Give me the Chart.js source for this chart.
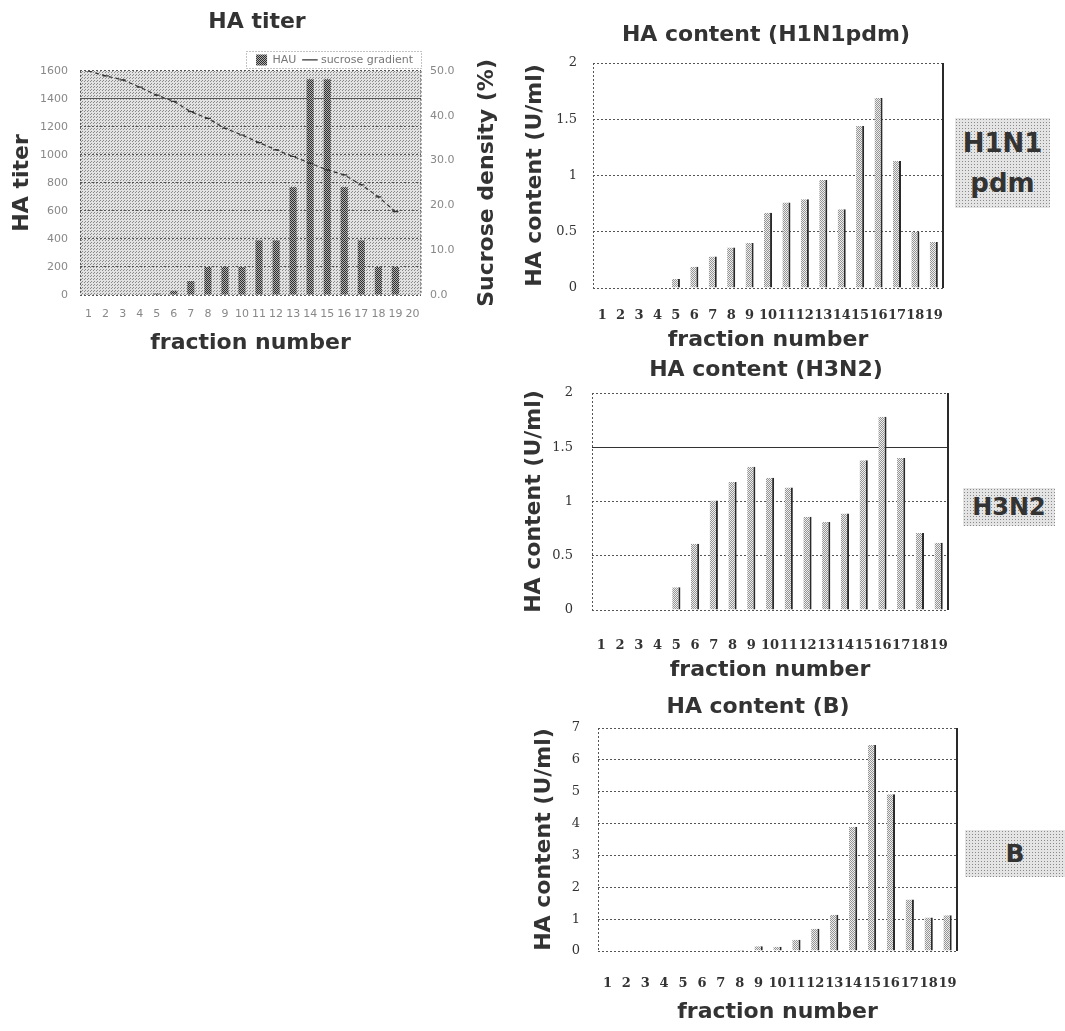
<!DOCTYPE html>
<html>
<head>
<meta charset="utf-8">
<script src="https://cdn.jsdelivr.net/npm/chart.js@4.4.1/dist/chart.umd.min.js"></script>
<style>
  body { margin: 0; background: #fff; width: 1065px; height: 1031px; position: relative; overflow: hidden; }
  canvas { position: absolute; }
  .tag {
    position: absolute; color: #333; font-family: "DejaVu Sans", sans-serif; font-weight: bold; text-align: center;
    background-color: #e4e4e4;
    background-image: radial-gradient(#8a8a8a 35%, transparent 45%);
    background-size: 3px 3px;
  }
</style>
</head>
<body>
<canvas id="titer" width="514" height="360" style="left:0;top:0"></canvas>
<canvas id="h1n1" width="552" height="355" style="left:490px;top:0"></canvas>
<canvas id="h3n2" width="552" height="340" style="left:490px;top:345px"></canvas>
<canvas id="fluB" width="536" height="351" style="left:490px;top:680px"></canvas>

<div class="tag" style="left:955px;top:118px;width:95px;height:85px;padding-top:5px;font-size:26px;line-height:40px">H1N1<br>pdm</div>
<div class="tag" style="left:963px;top:488px;width:92px;height:38px;font-size:24px;line-height:38px">H3N2</div>
<div class="tag" style="left:965px;top:830px;width:100px;height:47px;font-size:25px;line-height:47px">B</div>

<script>
const SANS = '"DejaVu Sans", sans-serif';
const SERIF = '"DejaVu Serif", serif';

// fractions of the sucrose gradient
const fractions20 = ["1","2","3","4","5","6","7","8","9","10","11","12","13","14","15","16","17","18","19","20"];
const fractions19 = ["1","2","3","4","5","6","7","8","9","10","11","12","13","14","15","16","17","18","19"];

// HA titer (HAU) and sucrose density (%)
const hau     = [3, 3, 3, 3, 10, 30, 100, 200, 200, 200, 390, 390, 770, 1540, 1540, 770, 390, 200, 200, null];
const sucrose = [50.0, 48.9, 48.0, 46.4, 44.6, 43.2, 40.9, 39.4, 37.2, 35.7, 34.0, 32.4, 30.9, 29.4, 27.9, 26.8, 24.6, 21.9, 18.6, null];

// HA content (U/ml)
const h1n1pdm = [0, 0, 0, 0, 0.08, 0.19, 0.28, 0.36, 0.40, 0.67, 0.76, 0.79, 0.96, 0.70, 1.44, 1.69, 1.13, 0.50, 0.41];
const h3n2    = [0, 0, 0, 0, 0.21, 0.61, 1.01, 1.18, 1.32, 1.22, 1.13, 0.86, 0.81, 0.89, 1.38, 1.78, 1.40, 0.71, 0.62];
const fluB    = [0, 0, 0, 0, 0, 0, 0, 0.03, 0.15, 0.13, 0.35, 0.70, 1.14, 3.90, 6.47, 4.92, 1.62, 1.05, 1.12];

// halftone-like fills
function tilePattern(ctx, size, bg, dot, dots) {
  const c = document.createElement("canvas");
  c.width = c.height = size;
  const t = c.getContext("2d");
  t.fillStyle = bg;
  t.fillRect(0, 0, size, size);
  t.fillStyle = dot;
  dots.forEach(([x, y]) => t.fillRect(x, y, 1, 1));
  return ctx.createPattern(c, "repeat");
}

// plot background + left / right frame lines
const frame = {
  id: "frame",
  beforeDraw(chart, args, o) {
    if (!o.bg) return;
    const { ctx, chartArea: a } = chart;
    ctx.save();
    ctx.fillStyle = o.bg;
    ctx.fillRect(a.left, a.top, a.right - a.left, a.bottom - a.top);
    ctx.restore();
  },
  afterDatasetsDraw(chart, args, o) {
    const { ctx, chartArea: a } = chart;
    ctx.save();
    ctx.strokeStyle = "#555";
    ctx.lineWidth = 1;
    ctx.setLineDash([2, 2]);
    ctx.beginPath();
    ctx.moveTo(a.left + 0.5, a.top);
    ctx.lineTo(a.left + 0.5, a.bottom);
    ctx.stroke();
    if (o.solidRight) {
      ctx.setLineDash([]);
      ctx.strokeStyle = "#2a2a2a";
      ctx.lineWidth = 2;
    }
    ctx.beginPath();
    ctx.moveTo(a.right, a.top);
    ctx.lineTo(a.right, a.bottom);
    ctx.stroke();
    ctx.restore();
  }
};

// right axis title reads bottom-to-top in the figure, and the legend sits in a dotted box
const titerExtras = {
  id: "titerExtras",
  afterDraw(chart, args, o) {
    const { ctx, chartArea: a, legend } = chart;
    ctx.save();
    ctx.translate(o.x, (a.top + a.bottom) / 2);
    ctx.rotate(-Math.PI / 2);
    ctx.textAlign = "center";
    ctx.textBaseline = "middle";
    ctx.fillStyle = "#333";
    ctx.font = "bold 22px " + SANS;
    ctx.fillText(o.text, 0, 0);
    ctx.restore();

    const boxes = legend.legendHitBoxes;
    if (!boxes || !boxes.length) return;
    const l = Math.min(...boxes.map(b => b.left)) - 10;
    const r = Math.max(...boxes.map(b => b.left + b.width)) + 8;
    const t = Math.min(...boxes.map(b => b.top)) - 3;
    const btm = Math.max(...boxes.map(b => b.top + b.height)) + 3;
    ctx.save();
    ctx.strokeStyle = "#888";
    ctx.lineWidth = 1;
    ctx.setLineDash([1, 2]);
    ctx.strokeRect(Math.round(l) + 0.5, Math.round(t) + 0.5, Math.round(r - l), Math.round(btm - t));
    ctx.restore();
  }
};

// empty right axis, only used to keep the title centred where it is in the figure
const spacer = w => ({
  position: "right",
  display: true,
  grid: { display: false, drawTicks: false },
  border: { display: false },
  ticks: { display: false },
  afterFit: a => { a.width = w; }
});

// ── HA titer ───────────────────────────────────────────────
{
  const ctx = document.getElementById("titer").getContext("2d");
  new Chart(ctx, {
    data: {
      labels: fractions20,
      datasets: [
        {
          type: "bar",
          label: "HAU",
          data: hau,
          yAxisID: "y",
          order: 1,
          backgroundColor: tilePattern(ctx, 2, "#b0b0b0", "#2e2e2e", [[0, 0], [1, 1]]),
          borderWidth: 0,
          pointStyle: "rect",
          barPercentage: 0.42,
          categoryPercentage: 1
        },
        {
          type: "line",
          label: "sucrose gradient",
          data: sucrose,
          yAxisID: "y1",
          order: 0,
          borderColor: "#333",
          borderWidth: 1.2,
          borderDash: [4, 3],
          pointStyle: "line",
          pointRadius: 3,
          pointBorderColor: "#333",
          pointBorderWidth: 1.2,
          fill: false,
          tension: 0
        }
      ]
    },
    options: {
      responsive: false,
      animation: false,
      plugins: {
        title: {
          display: true, text: "HA titer", color: "#333",
          font: { family: SANS, size: 22, weight: "bold" },
          padding: { top: 9, bottom: 11 }
        },
        legend: {
          position: "top", align: "end", fullSize: false, maxHeight: 24.5,
          labels: {
            usePointStyle: true, color: "#777", font: { family: SANS, size: 11 }, padding: 8,
            sort: (a, b) => a.datasetIndex - b.datasetIndex
          }
        },
        tooltip: { enabled: false },
        frame: { bg: tilePattern(ctx, 3, "#e2e2e2", "#8a8a8a", [[0, 0], [1, 2]]) },
        titerExtras: { text: "Sucrose density (%)", x: 487 }
      },
      scales: {
        x: {
          grid: { display: false, drawTicks: false },
          border: { display: false },
          ticks: { autoSkip: false, maxRotation: 0, minRotation: 0, padding: 13, color: "#888", font: { family: SANS, size: 11 } },
          title: { display: true, text: "fraction number", color: "#333", font: { family: SANS, size: 22, weight: "bold" }, padding: { top: 0, bottom: 4 } },
          afterFit: a => { a.height = 65; }
        },
        y: {
          min: 0, max: 1600,
          ticks: { stepSize: 200, padding: 12, color: "#888", font: { family: SANS, size: 11 }, callback: v => v },
          grid: { color: "#555", drawTicks: false },
          border: { display: false, dash: c => (c.tick && c.tick.value === 1400 ? [] : [2, 2]) },
          title: { display: true, text: "HA titer", color: "#333", font: { family: SANS, size: 22, weight: "bold" }, padding: { top: 9, bottom: 0 } },
          afterFit: a => { a.width = 80; }
        },
        y1: {
          position: "right",
          min: 0, max: 50,
          ticks: { stepSize: 10, padding: 9, color: "#888", font: { family: SANS, size: 11 }, callback: v => v.toFixed(1) },
          grid: { display: false, drawTicks: false },
          border: { display: false },
          afterFit: a => { a.width = 93; }
        }
      }
    },
    plugins: [frame, titerExtras]
  });
}

// ── HA content panels ───────────────────────────────────────
function contentChart(id, values, o) {
  const ctx = document.getElementById(id).getContext("2d");
  return new Chart(ctx, {
    type: "bar",
    data: {
      labels: fractions19,
      datasets: [{
        data: values,
        backgroundColor: tilePattern(ctx, 2, "#eeeeee", "#949494", [[0, 0], [1, 1]]),
        borderColor: "#2a2a2a",
        borderWidth: { top: 0, right: 2, bottom: 0, left: 0 },
        barPercentage: 0.44,
        categoryPercentage: 1
      }]
    },
    options: {
      responsive: false,
      animation: false,
      plugins: {
        title: {
          display: true, text: o.title, color: "#333",
          font: { family: SANS, size: 22, weight: "bold" },
          padding: { top: o.tTop, bottom: o.tBottom }
        },
        legend: { display: false },
        tooltip: { enabled: false },
        frame: { solidRight: true }
      },
      scales: {
        x: {
          grid: { display: false, drawTicks: false },
          border: { display: false },
          ticks: { autoSkip: false, maxRotation: 0, minRotation: 0, padding: o.xPad, color: "#333", font: { family: SERIF, size: 13, weight: "bold" } },
          title: { display: true, text: "fraction number", color: "#333", font: { family: SANS, size: 22, weight: "bold" }, padding: { top: 0, bottom: o.xtPad } },
          afterFit: a => { a.height = o.xH; }
        },
        y: {
          min: 0, max: o.max,
          ticks: { stepSize: o.step, padding: o.yPad, color: "#333", font: { family: SERIF, size: 13 }, callback: v => String(v) },
          grid: { color: c => (c.tick && c.tick.value === o.solid ? "#333" : "#555"), drawTicks: false },
          border: { display: false, dash: c => (c.tick && c.tick.value === o.solid ? [] : [2, 2]) },
          title: { display: true, text: "HA content (U/ml)", color: "#333", font: { family: SANS, size: 22, weight: "bold" }, padding: { top: o.ytPad, bottom: 0 } },
          afterFit: a => { a.width = o.yW; }
        },
        pad: spacer(o.rW)
      }
    },
    plugins: [frame]
  });
}

contentChart("h1n1", h1n1pdm, {
  title: "HA content (H1N1pdm)", tTop: 22, tBottom: 14.6,
  max: 2, step: 0.5, solid: null,
  yW: 103, rW: 99, yPad: 16, ytPad: 31.8,
  xH: 67, xPad: 20, xtPad: 2
});

contentChart("h3n2", h3n2, {
  title: "HA content (H3N2)", tTop: 11.8, tBottom: 9.8,
  max: 2, step: 0.5, solid: 1.5,
  yW: 102, rW: 94, yPad: 19, ytPad: 30.8,
  xH: 75, xPad: 28, xtPad: 2
});

contentChart("fluB", fluB, {
  title: "HA content (B)", tTop: 13.8, tBottom: 7.8,
  max: 7, step: 1, solid: null,
  yW: 108, rW: 69, yPad: 18, ytPad: 40.8,
  xH: 80, xPad: 25, xtPad: 6
});
</script>
</body>
</html>
